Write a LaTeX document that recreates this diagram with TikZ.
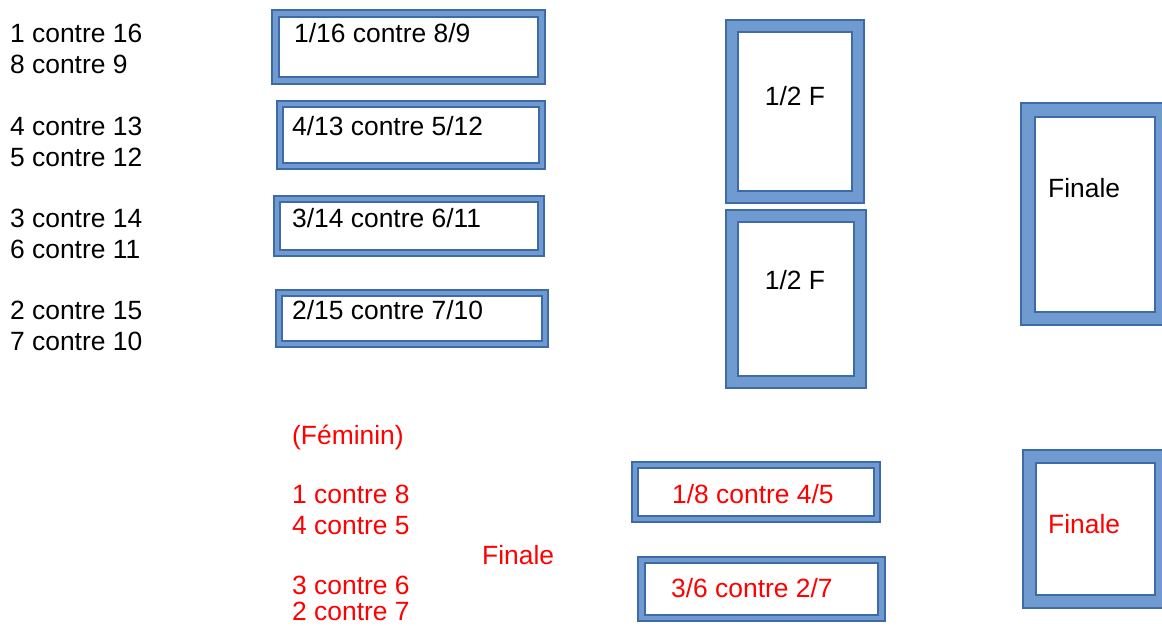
\documentclass[tikz,border=0pt]{standalone}
\usepackage{fontspec}
\setmainfont{Liberation Sans}
\definecolor{ffill}{HTML}{6F9BD0}
\definecolor{fedge}{HTML}{3E6AA8}
\definecolor{redtxt}{HTML}{FF0000}
\newcommand\tframe[9]{%
  % #1 name, #2-#5 outer x1 y1 x2 y2, #6-#9 inner x1 y1 x2 y2
  \draw[frameout] (#2,#3) rectangle (#4,#5);
  \draw[framein] (#6,#7) rectangle (#8,#9);
  \coordinate (#1) at ({(#2+#4)/2},{(#3+#5)/2});
}
\begin{document}
\begin{tikzpicture}[x=1pt,y=-1pt,
  frameout/.style={fill=ffill,draw=fedge,line width=1.8pt},
  framein/.style={fill=white,draw=fedge,line width=1.8pt},
  txt/.style={anchor=base west,inner sep=0pt,font=\fontsize{26.4}{31}\selectfont},
  rtxt/.style={txt,text=redtxt},
  ctxt/.style={txt,anchor=base}]
\useasboundingbox[fill=white] (0,0) rectangle (1162,626);
\begin{scope}
\clip (0,0) rectangle (1162,626);
% men's bracket frames
\tframe{fa}{272}{10}{545}{84}{279}{17}{538}{77}
\tframe{fb}{277}{101}{545}{169}{283}{107}{539}{163}
\tframe{fc}{274}{196}{544}{256}{280}{202}{538}{250}
\tframe{fd}{276}{290}{548}{347}{282}{296}{542}{341}
\tframe{hf1}{726}{20}{864}{203}{738}{32}{852}{191}
\tframe{hf2}{726}{210}{866}{388}{738}{222}{854}{376}
\tframe{fin}{1021}{103}{1166}{325}{1035}{117}{1155}{312}
% women's
\tframe{fe}{632}{462}{880}{522}{638}{468}{874}{516}
\tframe{ff}{638}{557}{885}{621}{645}{563}{878}{615}
\tframe{fin2}{1023}{450}{1166}{608}{1036}{463}{1155}{595}
\end{scope}
% left column
\node[txt] (l1) at (10,43) {1 contre 16};
\node[txt] (l2) at (10,74) {8 contre 9};
\node[txt] (l3) at (10,135) {4 contre 13};
\node[txt] (l4) at (10,166) {5 contre 12};
\node[txt] (l5) at (10,227) {3 contre 14};
\node[txt] (l6) at (10,258) {6 contre 11};
\node[txt] (l7) at (10,319) {2 contre 15};
\node[txt] (l8) at (10,350) {7 contre 10};
% box texts
\node[txt] (ta) at (294,43) {1/16 contre 8/9};
\node[txt] (tb) at (292,135) {4/13 contre 5/12};
\node[txt] (tc) at (292,227) {3/14 contre 6/11};
\node[txt] (td) at (292,319) {2/15 contre 7/10};
\node[ctxt] (th1) at (795,105) {1/2 F};
\node[ctxt] (th2) at (795,289) {1/2 F};
\node[txt] (tfin) at (1048,197) {Finale};
% women
\node[rtxt] (fem) at (292,444) {(Féminin)};
\node[rtxt] (w1) at (292,503) {1 contre 8};
\node[rtxt] (w2) at (292,534) {4 contre 5};
\node[rtxt] (wf) at (482,564) {Finale};
\node[rtxt] (w3) at (292,594) {3 contre 6};
\node[rtxt] (w4) at (292,620) {2 contre 7};
\node[rtxt] (te) at (672,503) {1/8 contre 4/5};
\node[rtxt] (tf) at (671,597) {3/6 contre 2/7};
\node[rtxt] (tfin2) at (1048,533) {Finale};
\end{tikzpicture}
\end{document}
